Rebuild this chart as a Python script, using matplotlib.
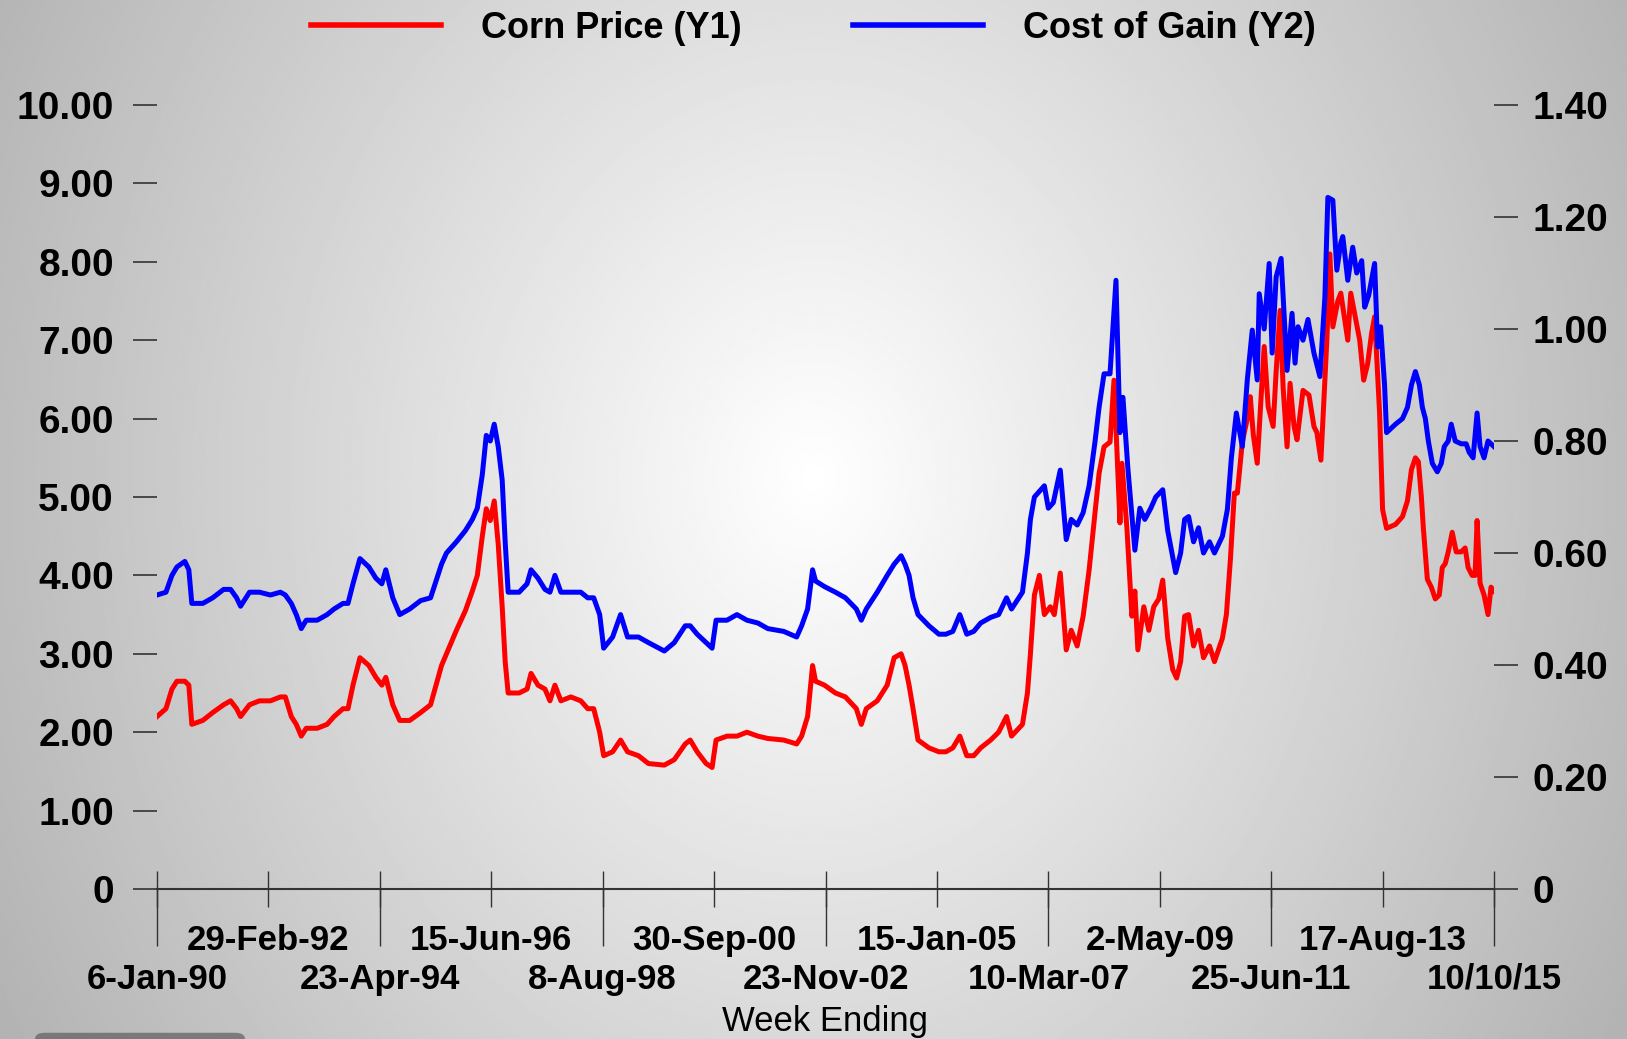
import numpy as np
import matplotlib
matplotlib.use('Agg')
import matplotlib.pyplot as plt
from matplotlib.patches import FancyBboxPatch

plt.rcParams['font.family'] = ['Liberation Sans', 'DejaVu Sans']
plt.rcParams['font.weight'] = 'bold'

# x axis: weeks counted from 6-Jan-90, one label every 112 weeks
tick_weeks = [0, 112, 224, 336, 448, 560, 672, 784, 896, 1008, 1120, 1232, 1344]
tick_labels = ['6-Jan-90', '29-Feb-92', '23-Apr-94', '15-Jun-96', '8-Aug-98',
               '30-Sep-00', '23-Nov-02', '15-Jan-05', '10-Mar-07', '2-May-09',
               '25-Jun-11', '17-Aug-13', '10/10/15']

# corn price ($/bu, left axis)
corn_week = [0, 9, 15, 20, 28, 32, 35, 46, 56, 67, 74, 80, 84, 93, 103, 114, 124, 129,
             135, 140, 145, 150, 161, 171, 178, 187, 192, 197, 204, 213, 220, 226, 230,
             237, 244, 254, 265, 275, 286, 291, 301, 310, 317, 322, 327, 331, 335, 339,
             343, 347, 350, 353, 364, 372, 376, 383, 390, 395, 400, 406, 416, 426, 433,
             439, 445, 449, 458, 466, 473, 484, 494, 510, 520, 531, 536, 543, 552, 558,
             562, 573, 583, 593, 604, 614, 630, 643, 648, 654, 659, 662, 671, 682, 692,
             703, 708, 713, 724, 734, 741, 748, 752, 756, 760, 765, 776, 786, 793, 800,
             807, 814, 821, 828, 838, 846, 854, 859, 870, 875, 878, 882, 887, 892, 898,
             902, 908, 914, 919, 925, 931, 937, 943, 947, 952, 958, 962, 968, 970, 975,
             980, 983, 986, 992, 997, 1002, 1007, 1011, 1016, 1021, 1025, 1029, 1033,
             1037, 1042, 1047, 1052, 1058, 1063, 1071, 1075, 1079, 1083, 1086, 1091,
             1096, 1099, 1102, 1106, 1110, 1113, 1117, 1122, 1125, 1129, 1132, 1136,
             1139, 1143, 1146, 1152, 1158, 1163, 1166, 1170, 1176, 1179, 1182, 1187,
             1190, 1197, 1200, 1203, 1209, 1213, 1217, 1221, 1224, 1229, 1232, 1236,
             1245, 1252, 1257, 1261, 1265, 1268, 1271, 1273, 1277, 1281, 1285, 1289,
             1292, 1295, 1298, 1302, 1306, 1311, 1315, 1318, 1322, 1325, 1327, 1330,
             1334, 1338, 1341, 1344]
corn_price = [2.2, 2.3, 2.55, 2.65, 2.65, 2.6, 2.1, 2.15, 2.25, 2.35, 2.4, 2.3, 2.2, 2.35,
              2.4, 2.4, 2.45, 2.45, 2.2, 2.1, 1.95, 2.05, 2.05, 2.1, 2.2, 2.3, 2.3, 2.6,
              2.95, 2.85, 2.7, 2.6, 2.7, 2.35, 2.15, 2.15, 2.25, 2.35, 2.85, 3.0, 3.3,
              3.55, 3.8, 4.0, 4.5, 4.85, 4.7, 4.95, 4.4, 3.6, 2.9, 2.5, 2.5, 2.55, 2.75,
              2.6, 2.55, 2.4, 2.6, 2.4, 2.45, 2.4, 2.3, 2.3, 2.0, 1.7, 1.75, 1.9, 1.75,
              1.7, 1.6, 1.58, 1.65, 1.85, 1.9, 1.75, 1.6, 1.55, 1.9, 1.95, 1.95, 2.0,
              1.95, 1.92, 1.9, 1.85, 1.95, 2.2, 2.85, 2.65, 2.6, 2.5, 2.45, 2.3, 2.1,
              2.3, 2.4, 2.6, 2.95, 3.0, 2.85, 2.6, 2.3, 1.9, 1.8, 1.75, 1.75, 1.8, 1.95,
              1.7, 1.7, 1.8, 1.9, 2.0, 2.2, 1.95, 2.1, 2.5, 3.0, 3.75, 4.0, 3.5, 3.6,
              3.5, 4.03, 3.05, 3.3, 3.1, 3.48, 4.07, 4.8, 5.3, 5.64, 5.7, 6.49, 4.67,
              5.43, 4.6, 3.48, 3.8, 3.05, 3.6, 3.3, 3.6, 3.7, 3.94, 3.2, 2.8, 2.69, 2.9,
              3.48, 3.5, 3.1, 3.3, 2.95, 3.1, 2.9, 3.2, 3.5, 4.2, 5.05, 5.05, 5.7, 6.0,
              6.28, 5.8, 5.43, 6.3, 6.92, 6.15, 5.9, 6.6, 7.38, 6.4, 5.64, 6.45, 5.9,
              5.73, 6.36, 6.3, 5.9, 5.82, 5.47, 7.0, 8.1, 7.17, 7.5, 7.6, 7.0, 7.6, 7.4,
              7.0, 6.49, 6.7, 7.09, 7.3, 6.07, 4.84, 4.6, 4.65, 4.75, 4.95, 5.35, 5.5,
              5.45, 5.0, 4.6, 3.95, 3.85, 3.7, 3.75, 4.1, 4.15, 4.3, 4.55, 4.3, 4.3,
              4.35, 4.1, 4.0, 4.0, 4.7, 3.9, 3.75, 3.5, 3.85, 3.8]

# cost of gain ($/lb, right axis)
cog_week = [0, 9, 15, 20, 28, 32, 35, 46, 56, 67, 74, 80, 84, 93, 103, 114, 124, 129,
            135, 140, 145, 150, 161, 171, 178, 187, 192, 197, 204, 213, 220, 226, 230,
            237, 244, 254, 265, 275, 286, 291, 301, 310, 317, 322, 327, 331, 335, 339,
            343, 347, 350, 353, 364, 372, 376, 383, 390, 395, 400, 406, 416, 426, 433,
            439, 445, 449, 458, 466, 473, 484, 494, 510, 520, 531, 536, 543, 552, 558,
            562, 573, 583, 593, 604, 614, 630, 643, 648, 654, 659, 662, 671, 682, 692,
            703, 708, 713, 724, 734, 741, 748, 752, 756, 760, 765, 776, 786, 793, 800,
            807, 814, 821, 828, 838, 846, 854, 859, 870, 875, 878, 882, 887, 892, 896,
            901, 908, 914, 919, 925, 931, 937, 943, 947, 952, 958, 964, 968, 971, 976,
            983, 988, 993, 999, 1004, 1011, 1016, 1024, 1029, 1033, 1037, 1042, 1047,
            1052, 1058, 1063, 1071, 1076, 1080, 1085, 1091, 1096, 1101, 1106, 1108,
            1113, 1118, 1121, 1125, 1130, 1136, 1141, 1144, 1147, 1152, 1157, 1163,
            1169, 1174, 1177, 1182, 1186, 1190, 1192, 1197, 1202, 1206, 1211, 1214,
            1218, 1224, 1227, 1230, 1234, 1236, 1245, 1252, 1257, 1261, 1265, 1269,
            1272, 1275, 1278, 1282, 1287, 1291, 1294, 1298, 1301, 1305, 1311, 1316,
            1319, 1323, 1327, 1330, 1334, 1338, 1344]
cost_of_gain = [0.525, 0.53, 0.56, 0.575, 0.585, 0.57, 0.51, 0.51, 0.52, 0.535, 0.535,
                0.52, 0.505, 0.53, 0.53, 0.525, 0.53, 0.525, 0.51, 0.49, 0.465, 0.48,
                0.48, 0.49, 0.5, 0.51, 0.51, 0.545, 0.59, 0.575, 0.555, 0.545, 0.57,
                0.52, 0.49, 0.5, 0.515, 0.52, 0.58, 0.6, 0.62, 0.64, 0.66, 0.68, 0.74,
                0.81, 0.8, 0.83, 0.79, 0.73, 0.62, 0.53, 0.53, 0.545, 0.57, 0.555, 0.535,
                0.53, 0.56, 0.53, 0.53, 0.53, 0.52, 0.52, 0.49, 0.43, 0.45, 0.49, 0.45,
                0.45, 0.44, 0.425, 0.44, 0.47, 0.47, 0.455, 0.44, 0.43, 0.48, 0.48, 0.49,
                0.48, 0.475, 0.465, 0.46, 0.45, 0.47, 0.5, 0.57, 0.55, 0.54, 0.53, 0.52,
                0.5, 0.48, 0.5, 0.53, 0.56, 0.58, 0.595, 0.58, 0.56, 0.52, 0.49, 0.47,
                0.455, 0.455, 0.46, 0.49, 0.455, 0.46, 0.475, 0.485, 0.49, 0.52, 0.5,
                0.53, 0.6, 0.66, 0.7, 0.71, 0.72, 0.68, 0.69, 0.748, 0.624, 0.66, 0.65,
                0.672, 0.72, 0.8, 0.86, 0.92, 0.92, 1.087, 0.815, 0.878, 0.75, 0.605,
                0.68, 0.66, 0.68, 0.7, 0.713, 0.64, 0.565, 0.6, 0.66, 0.665, 0.62, 0.645,
                0.6, 0.62, 0.6, 0.63, 0.678, 0.77, 0.85, 0.79, 0.909, 0.998, 0.909,
                1.063, 1.0, 1.117, 0.957, 1.093, 1.126, 0.926, 1.028, 0.939, 1.004,
                0.98, 1.017, 0.957, 0.915, 1.057, 1.235, 1.23, 1.105, 1.154, 1.165,
                1.087, 1.146, 1.1, 1.122, 1.039, 1.06, 1.117, 0.968, 1.004, 0.9, 0.815,
                0.83, 0.84, 0.86, 0.9, 0.924, 0.9, 0.86, 0.84, 0.8, 0.76, 0.745, 0.76,
                0.79, 0.8, 0.83, 0.8, 0.795, 0.795, 0.78, 0.77, 0.85, 0.79, 0.77, 0.8,
                0.79]

left_ticks = [0, 1, 2, 3, 4, 5, 6, 7, 8, 9, 10]
left_labels = ['0', '1.00', '2.00', '3.00', '4.00', '5.00', '6.00', '7.00', '8.00',
               '9.00', '10.00']
right_ticks = [0, 0.2, 0.4, 0.6, 0.8, 1.0, 1.2, 1.4]
right_labels = ['0', '0.20', '0.40', '0.60', '0.80', '1.00', '1.20', '1.40']

W, H = 1627, 1039
fig = plt.figure(figsize=(W / 100, H / 100), dpi=100)

# radial grey background, white near the middle
bg = fig.add_axes([0, 0, 1, 1], zorder=-5)
gx = np.linspace(-1, 1, 800)
gy = np.linspace(-0.92, 1.08, 500)
GX, GY = np.meshgrid(gx, gy)
shade = 1 - np.sqrt(0.068 * GX ** 2 + 0.019 * GY ** 2)
bg.imshow(shade, cmap='gray', vmin=0, vmax=1, aspect='auto', extent=[0, 1, 0, 1],
          interpolation='bilinear')
bg.set_xlim(0, 1)
bg.set_ylim(0, 1)
bg.axis('off')
fig.add_artist(FancyBboxPatch((35 / W, -0.02), 210 / W, 0.026,
                              boxstyle='round,pad=0,rounding_size=0.006',
                              transform=fig.transFigure, facecolor='#5e5e5e',
                              edgecolor='none', alpha=0.7))

ax = fig.add_axes([157 / W, 150 / H, 1337 / W, 784 / H])
ax.patch.set_visible(False)
ax2 = ax.twinx()
ax2.patch.set_visible(False)

red_line, = ax.plot(corn_week, corn_price, color='#ff0000', lw=3.6)
blue_line, = ax2.plot(cog_week, cost_of_gain, color='#0000ff', lw=3.6)

ax.set_xlim(0, 1344)
ax.set_ylim(0, 10)
ax2.set_ylim(0, 1.4)

ax.xaxis.remove_overlapping_locs = False
ax.set_xticks(tick_weeks)
ax.set_xticklabels([lab if i % 2 else '' for i, lab in enumerate(tick_labels)])
ax.set_xticks(tick_weeks[::2], minor=True)
ax.set_xticklabels(tick_labels[::2], minor=True)
ax.tick_params(axis='x', which='major', direction='inout', length=26, width=1,
               color='#333333', pad=12, labelsize=25)
ax.tick_params(axis='x', which='minor', direction='out', length=41, width=1,
               color='#333333', pad=12, labelsize=25)

ax.set_yticks(left_ticks)
ax.set_yticklabels(left_labels)
ax.tick_params(axis='y', direction='out', length=17, width=1.2, color='#333333',
               pad=14, labelsize=28)
ax2.set_yticks(right_ticks)
ax2.set_yticklabels(right_labels)
ax2.tick_params(axis='y', direction='out', length=17, width=1.2, color='#333333',
                pad=11, labelsize=28)

for a in (ax, ax2):
    for s in ['top', 'left', 'right']:
        a.spines[s].set_visible(False)
ax2.spines['bottom'].set_visible(False)
ax.spines['bottom'].set_color('#333333')
ax.spines['bottom'].set_linewidth(1.5)

leg = fig.legend([red_line, blue_line], ['Corn Price (Y1)', 'Cost of Gain (Y2)'],
                 loc='center', bbox_to_anchor=(0.5, 1 - 28 / H), ncol=2,
                 frameon=False, fontsize=26, handlelength=3.6, handletextpad=1.1,
                 columnspacing=3.1, borderpad=0, borderaxespad=0)
for h in leg.get_lines():
    h.set_linewidth(4)

fig.text(825.5 / W, 1 - 1021 / H, 'Week Ending', ha='center', va='center',
         fontsize=25, fontweight='normal')

fig.savefig('out.png', dpi=100)
